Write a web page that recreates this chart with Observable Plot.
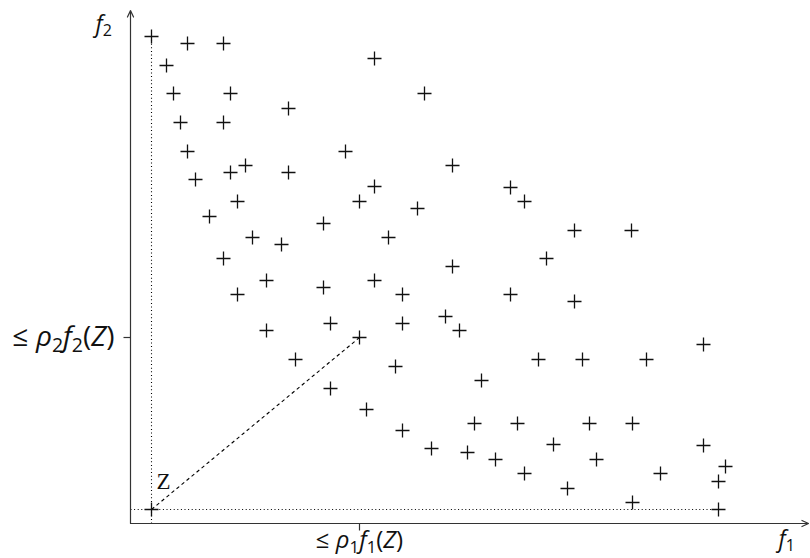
<!DOCTYPE html>
<html>
<head>
<meta charset="utf-8">
<script src="https://cdn.jsdelivr.net/npm/d3@7"></script>
<script src="https://cdn.jsdelivr.net/npm/@observablehq/plot@0.6"></script>
<style>
  html, body { margin: 0; padding: 0; background: #fff; }
  #chart { width: 810px; height: 558px; }
</style>
</head>
<body>
<div id="chart"></div>
<script>
// Objective values of the points (f1, f2)
const f1 = [21,57,93,36,244,43,100,294,158,50,93,57,215,115,322,100,158,65,244,380,
            107,229,394,287,79,193,444,501,122,258,151,93,416,322,136,244,193,107,272,380,
            444,315,200,272,136,329,229,573,165,408,452,516,265,351,200,236,344,387,459,502,
            272,423,573,301,337,365,466,595,394,530,588,437,502,21,588];
const f2 = [487,480,480,458,465,430,430,430,415,401,401,372,372,358,358,351,351,344,337,336,
            322,322,322,315,307,300,293,293,286,286,279,265,265,257,243,243,236,229,229,229,
            222,207,200,200,193,193,186,179,164,164,164,164,157,143,135,114,100,100,100,100,
            93,79,78,75,71,64,64,57,50,50,42,35,21,14,14];

// Reference point Z and the scaled point (rho1 f1(Z), rho2 f2(Z))
const zF1 = 21, zF2 = 14;
const rhoF1 = 229, rhoF2 = 186;
// extremes used by the dotted guide lines
const topF2 = 487, rightF1 = 588;
const axisMaxF1 = 678, axisMaxF2 = 513;

// Text labels ("*" toggles italic, "_" makes the next char a subscript)
const tickLabelX = "≤ *ρ*_1*f*_1(*Z*)";
const tickLabelY = "≤ *ρ*_2*f*_2(*Z*)";
const axisLabelX = "*f*_1";
const axisLabelY = "*f*_2";
const pointLabel = "Z";

const points = f1.map((v, i) => ({f1: v, f2: f2[i]}));

const plusSymbol = {
  draw(ctx, size) {
    const h = Math.sqrt(size / Math.PI);
    ctx.moveTo(-h, 0); ctx.lineTo(h, 0);
    ctx.moveTo(0, -h); ctx.lineTo(0, h);
  }
};

const seg = (x1, y1, x2, y2) => [{x1, y1, x2, y2}];
const linkOpts = {x1: "x1", y1: "y1", x2: "x2", y2: "y2"};

const chart = Plot.plot({
  width: 810,
  height: 558,
  marginLeft: 130,
  marginRight: 0,
  marginTop: 9,
  marginBottom: 35,
  style: {background: "#fff", overflow: "visible"},
  x: {domain: [0, 680], axis: null},
  y: {domain: [0, 514], axis: null},
  marks: [
    // dotted guides through Z
    Plot.link(seg(zF1, 0, zF1, topF2), {...linkOpts, stroke: "#000", strokeWidth: 1.1, strokeDasharray: "1,2.6"}),
    Plot.link(seg(0, zF2, rightF1, zF2), {...linkOpts, stroke: "#000", strokeWidth: 1.1, strokeDasharray: "1,2.6"}),
    // dashed line from Z to the scaled point
    Plot.link(seg(zF1, zF2, rhoF1, rhoF2), {...linkOpts, stroke: "#000", strokeWidth: 1.1, strokeDasharray: "3.5,3"}),
    // axes with arrows
    Plot.arrow(seg(0, 0, axisMaxF1, 0), {...linkOpts, stroke: "#333", strokeWidth: 1.2, headLength: 9, headAngle: 50}),
    Plot.arrow(seg(0, 0, 0, axisMaxF2), {...linkOpts, stroke: "#333", strokeWidth: 1.2, headLength: 9, headAngle: 50}),
    // ticks
    Plot.link(seg(rhoF1, 0, rhoF1, -7), {...linkOpts, stroke: "#333", strokeWidth: 1.2}),
    Plot.link(seg(0, rhoF2, -7, rhoF2), {...linkOpts, stroke: "#333", strokeWidth: 1.2}),
    // points
    Plot.dot(points, {x: "f1", y: "f2", r: 7, symbol: plusSymbol, fill: "none",
      stroke: "#111", strokeWidth: 1.3}),
    // labels
    Plot.text([tickLabelX], {x: rhoF1, y: 0, dy: 17, text: d => d, textAnchor: "middle",
      lineAnchor: "middle", fontSize: 24, fontFamily: "Open Sans", fill: "#111"}),
    Plot.text([tickLabelY], {x: 0, y: rhoF2, dx: -16, text: d => d, textAnchor: "end",
      lineAnchor: "middle", fontSize: 28, fontFamily: "Open Sans", fill: "#111"}),
    Plot.text([axisLabelX], {x: axisMaxF1, y: 0, dx: -30, dy: 23, text: d => d, textAnchor: "start",
      lineAnchor: "bottom", fontSize: 23, fontFamily: "Open Sans", fill: "#111"}),
    Plot.text([axisLabelY], {x: 0, y: axisMaxF2, dx: -35, dy: 21, text: d => d, textAnchor: "start",
      lineAnchor: "bottom", fontSize: 23, fontFamily: "Open Sans", fill: "#111"}),
    Plot.text([pointLabel], {x: zF1, y: zF2, dx: 12, dy: -21, text: d => d, textAnchor: "middle",
      lineAnchor: "bottom", fontSize: 23, fontFamily: "Liberation Serif", fill: "#111"})
  ]
});

// Rich text: italic letters and subscripts via tspans
const specs = new Set([tickLabelX, tickLabelY, axisLabelX, axisLabelY]);
d3.select(chart).selectAll("text").each(function() {
  const spec = this.textContent;
  if (!specs.has(spec)) return;
  const fsAttr = this.closest("[font-size]");
  const base = fsAttr ? parseFloat(fsAttr.getAttribute("font-size")) : 20;
  const segs = [];
  let italic = false;
  for (let i = 0; i < spec.length; i++) {
    const c = spec[i];
    if (c === "*") { italic = !italic; continue; }
    if (c === "_") { segs.push({t: spec[++i], sub: true, italic: false}); continue; }
    const last = segs[segs.length - 1];
    if (last && !last.sub && last.italic === italic) last.t += c;
    else segs.push({t: c, sub: false, italic});
  }
  this.textContent = "";
  const shift = base * 0.2;
  let inSub = false;
  for (const s of segs) {
    const ts = d3.select(this).append("tspan").text(s.t);
    if (s.italic) ts.attr("font-style", "italic");
    if (s.sub) {
      ts.attr("font-size", base * 0.7);
      if (!inSub) ts.attr("dy", shift);
      inSub = true;
    } else {
      if (inSub) ts.attr("dy", -shift);
      inSub = false;
    }
  }
});

document.getElementById("chart").appendChild(chart);
</script>
</body>
</html>
